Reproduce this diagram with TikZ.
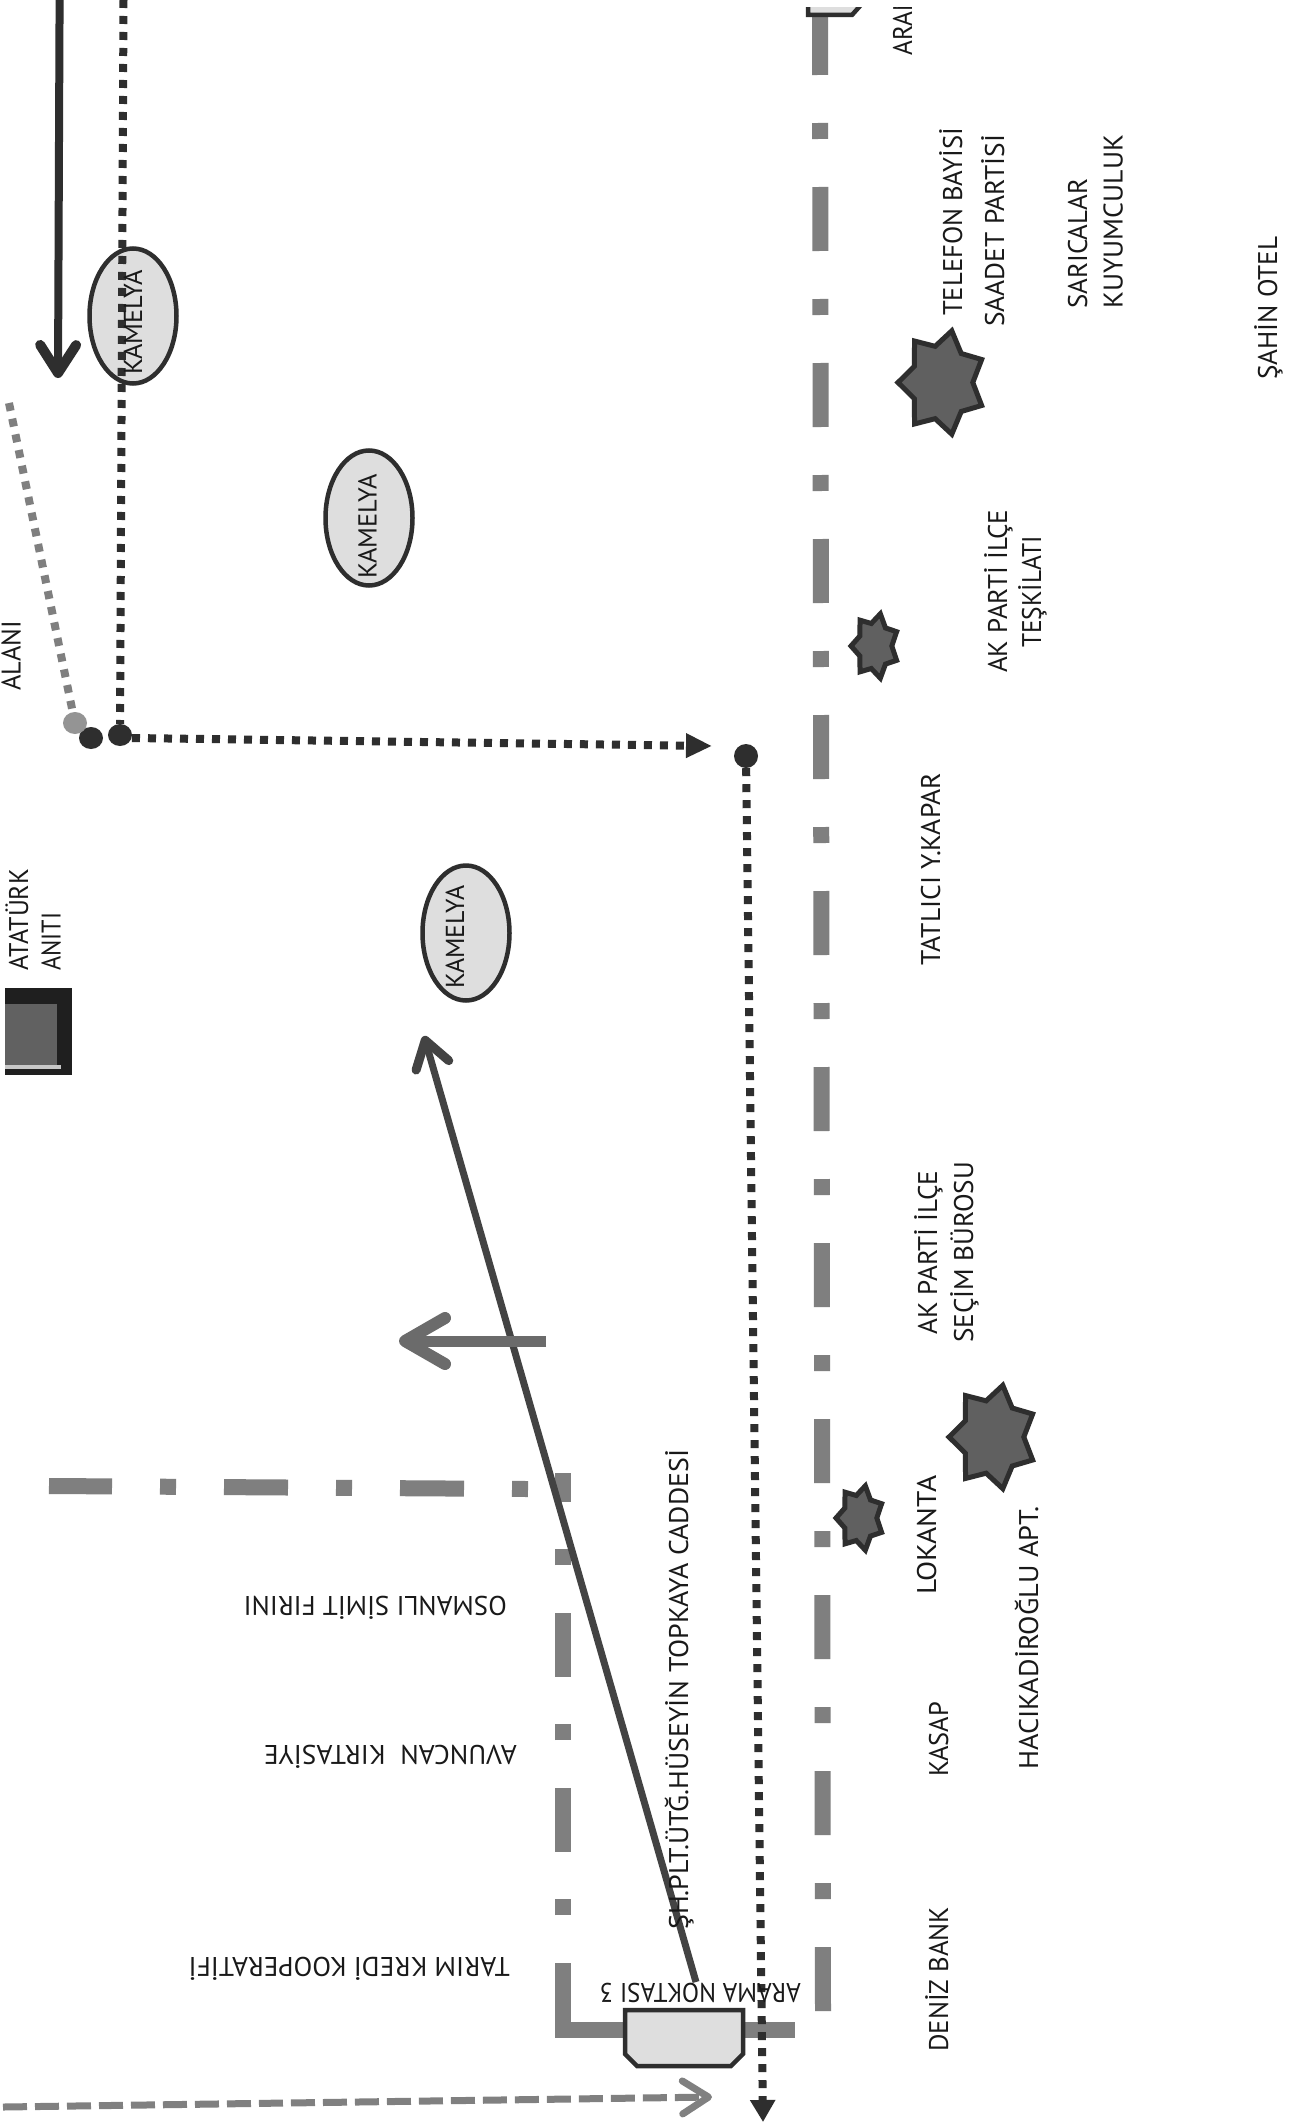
\documentclass[tikz,border=0pt]{standalone}
\usepackage{graphicx}
\usepackage{fontspec}
\setmainfont{PT Sans}
\usetikzlibrary{arrows.meta,shapes.geometric}
\newcommand\fitlen[2]{\setbox0\hbox{#2}\pgfmathsetmacro\fitratio{#1/\the\wd0}\scalebox{\fitratio}[1]{\box0}}
\definecolor{roadgray}{HTML}{7F7F7F}
\definecolor{inkdark}{HTML}{2E2E2E}
\definecolor{midgray}{HTML}{606060}
\definecolor{softgray}{HTML}{DEDEDE}
\tikzset{
  roadline/.style={draw=roadgray,line width=16pt,line cap=butt,dash pattern=on 64pt off 48pt on 16pt off 48pt},
  roadsolid/.style={draw=roadgray,line width=16pt,line cap=butt,line join=miter},
  dotline/.style={draw=inkdark,line width=8pt,dash pattern=on 8pt off 8pt},
  graydot/.style={draw=roadgray,line width=8pt,dash pattern=on 8pt off 8pt},
  kamelya/.style={ellipse,draw=inkdark,line width=4.5pt,fill=softgray,minimum width=87pt,minimum height=135pt,inner sep=0pt},
  lblbase/.style={text=black!90,font=\fontsize{27}{29}\selectfont,inner sep=0pt,anchor=base west},
  lbl/.style={lblbase,rotate=90},
  lblsmall/.style={lblbase,rotate=90,font=\fontsize{26}{28}\selectfont},
  flip/.style={lblbase,rotate=180},
  ball/.style={ellipse,inner sep=0pt,minimum width=24pt,minimum height=22pt},
  sevenstar/.style={draw=inkdark,line width=5pt,fill=midgray,line join=miter},
  chambox/.style={draw=inkdark,line width=4.5pt,fill=softgray,line join=miter},
}
\begin{document}
\begin{tikzpicture}[x=1pt,y=-1pt]
\useasboundingbox (0,0) rectangle (1288,2124);
\fill[white] (0,0) rectangle (1288,2124);

% roads
\coordinate (r1a) at (820,11); \coordinate (r1b) at (823,2012);
\draw[roadline] (r1a) -- (r1b);
\coordinate (r2a) at (563,1963); \coordinate (r2b) at (563,2030); \coordinate (r2c) at (795,2030);
\draw[roadsolid] (r2a) -- (r2b) -- (r2c);
\coordinate (r3a) at (563,1915); \coordinate (r3b) at (563,1473);
\draw[roadline,dash pattern=on 16pt off 47.5pt on 64pt off 47.5pt] (r3a) -- (r3b);
\coordinate (r4a) at (528,1489); \coordinate (r4b) at (49,1486);
\draw[roadline,dash pattern=on 16pt off 48pt on 64pt off 48pt] (r4a) -- (r4b);

% boxes
\draw[chambox] (625,2010) -- (743,2010) -- (743,2054) -- (731,2066) -- (637,2066) -- (625,2054) -- cycle;
\begin{scope}
\clip (790,8) rectangle (880,30);
\draw[chambox] (808,-20) -- (808,15) -- (852,15) -- (860,6) -- (860,-20) -- cycle;
\end{scope}

% kamelya
\node[kamelya] (k1) at (133,316) {};
\node[kamelya] (k2) at (369,518) {};
\node[kamelya] (k3) at (466,933) {};

% monument
\node[fill=black!88,minimum width=67pt,minimum height=87pt,inner sep=0pt] (monument) at (38.5,1031.5) {};
\node[fill=black!62,minimum width=52pt,minimum height=61pt,inner sep=0pt] (monumentin) at (31,1034.5) {};
\node[fill=black!22,minimum width=56pt,minimum height=4pt,inner sep=0pt] (monumentsill) at (33,1067) {};

% stars
\foreach \cx/\cy/\rx/\ry in {942/382.5/44/53, 875/646/24/33, 993/1437/44/53, 860/1518/24/33}{
  \draw[sevenstar] plot[samples at={0,...,13},variable=\k]
    ({\cx+\rx*(mod(\k,2)==0?1:0.7)*cos(180+\k*360/14)},
     {\cy+\ry*(mod(\k,2)==0?1:0.7)*sin(180+\k*360/14)}) -- cycle;
}

% dotted routes
\coordinate (d1top) at (123.5,0);
\node[ball,fill=inkdark] (b3) at (120,735) {};
\node[ball,fill=inkdark] (b2) at (91,738) {};
\node[ball,fill=black!42] (b1) at (75,723) {};
\coordinate (g1) at (9,403);
\draw[graydot] (g1) -- (b1);
\draw[dotline] (d1top) -- (b3);
\coordinate (d1s) at (132,738);
\coordinate (d1tip) at (712,746);
\draw[dotline,-{Triangle[length=26pt,width=23pt]}] (d1s) -- (d1tip);
\node[circle,fill=inkdark,minimum size=24pt,inner sep=0pt] (d2) at (746,756) {};
\coordinate (d2tip) at (763,2122);
\draw[dotline,-{Triangle[length=22pt,width=24pt]}] (d2) -- (d2tip);

% arrows
\coordinate (a1s) at (59.6,0); \coordinate (a1t) at (58,378);
\draw[draw=inkdark,line width=8pt,-{Straight Barb[length=28pt,width=36pt,line width=10pt,round]}] (a1s) -- (a1t);
\coordinate (a2s) at (696,1982); \coordinate (a2t) at (424,1036);
\draw[draw=inkdark!90,line width=7pt,-{Straight Barb[length=26pt,width=34pt,line width=9pt,round]}] (a2s) -- (a2t);
\coordinate (a3s) at (546,1341); \coordinate (a3t) at (399,1341);
\draw[draw=black!58,line width=11pt,-{Straight Barb[length=40pt,width=46pt,line width=12pt,round]}] (a3s) -- (a3t);
\coordinate (a4s) at (3,2107); \coordinate (a4t) at (712,2097);
\draw[draw=black!50,line width=7pt,dash pattern=on 24pt off 8pt,-{Straight Barb[length=26pt,width=33pt,line width=7pt,round]}] (a4s) -- (a4t);

% labels
\node[lblsmall] (tk1) at (142,375) {\fitlen{105}{KAMELYA}};
\node[lblsmall] (tk2) at (376.5,579) {\fitlen{105}{KAMELYA}};
\node[lblsmall] (tk3) at (464,989) {\fitlen{103}{KAMELYA}};
\node[lbl] (talani) at (20.5,691) {\fitlen{70}{ALANI}};
\node[lbl] (tata1) at (28,971) {\fitlen{102}{ATATÜRK}};
\node[lbl] (tata2) at (60.5,971) {\fitlen{58}{ANITI}};
\begin{scope}
\clip (880,8) rectangle (930,70);
\node[lbl] (tara) at (912,56) {\fitlen{64}{ARAM}};
\end{scope}
\node[lbl] (t1) at (962,316) {\fitlen{188}{TELEFON BAYİSİ}};
\node[lbl] (t2) at (1004,327) {\fitlen{192}{SAADET PARTİSİ}};
\node[lbl] (t3) at (1087,309) {\fitlen{130}{SARICALAR}};
\node[lbl] (t4) at (1122.6,309) {\fitlen{174}{KUYUMCULUK}};
\node[lbl] (t5) at (1277,380) {\fitlen{143}{ŞAHİN OTEL}};
\node[lbl] (t6) at (1007,673) {\fitlen{163}{AK PARTİ İLÇE}};
\node[lbl] (t7) at (1041,648) {\fitlen{112}{TEŞKİLATI}};
\node[lbl] (t8) at (940,966) {\fitlen{193}{TATLICI Y.KAPAR}};
\node[lbl] (t9) at (937,1335) {\fitlen{164}{AK PARTİ İLÇE}};
\node[lbl] (t10) at (973,1343) {\fitlen{181}{SEÇİM BÜROSU}};
\node[lbl] (t11) at (936,1595) {\fitlen{119}{LOKANTA}};
\node[lbl] (t12) at (1038,1770) {\fitlen{263}{HACIKADİROĞLU APT.}};
\node[lbl] (t13) at (948,1777) {\fitlen{75}{KASAP}};
\node[lbl] (t14) at (948,2052) {\fitlen{145}{DENİZ BANK}};
\node[lbl] (t15) at (688,1930) {\fitlen{480}{ŞH.PLT.ÜTĞ.HÜSEYİN TOPKAYA CADDESİ}};
\node[flip] (f1) at (510,1957) {\fitlen{321}{TARIM KREDİ KOOPERATİFİ}};
\node[flip] (f2) at (517,1745) {\fitlen{253}{AVUNCAN\ \ KIRTASİYE}};
\node[flip] (f3) at (507,1596) {\fitlen{263}{OSMANLI SİMİT FIRINI}};
\node[flip] (f4) at (801,1983) {\fitlen{201}{ARAMA NOKTASI 3}};
\end{tikzpicture}
\end{document}
